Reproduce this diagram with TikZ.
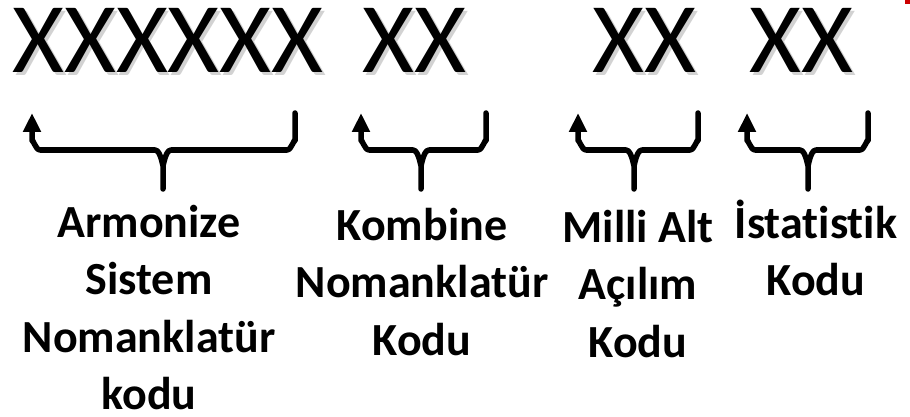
\documentclass[tikz,border=0pt]{standalone}
\usepackage{fontspec}
\setmainfont{Carlito}[Ligatures=NoCommon]
\usetikzlibrary{arrows.meta}

\begin{document}
\begin{tikzpicture}[x=1pt,y=-1pt,
        code/.style={inner sep=0pt,anchor=base west,font=\fontsize{100}{100}\selectfont},
        codeshadow/.style={code,text=black!25,opacity=0.7},
        desc/.style={inner sep=0pt,anchor=north,align=center,font=\bfseries\fontsize{46}{57.5}\selectfont},
        bracepart/.style={line width=5.5pt,line cap=round,line join=round},
        bracetip/.style={bracepart,-{Triangle[length=19pt,width=17pt]}}]
        \useasboundingbox (0,0) rectangle (910,417);
        % Draw code groups
        \foreach \x/\t in {12/XXXXXX, 362/XX, 592/XX, 749/XX}
                \node [codeshadow] at (\x+3,76) {\t};
        \node [code] (hs) at (12,73) {XXXXXX};
        \node [code] (kn) at (362,73) {XX};
        \node [code] (ma) at (592,73) {XX};
        \node [code] (ik) at (749,73) {XX};
        % Draw braces
        \foreach \n/\xl/\xc/\xr in {hs/32/163/295, kn/361/421/486, ma/578/634/698, ik/747/808/868} {
                \coordinate (\n-l) at (\xl,113);
                \coordinate (\n-r) at (\xr,113);
                \coordinate (\n-end) at (\xc,189);
                \draw [bracetip] (\n-end) -- (\xc,164) to[out=-90,in=0] (\xc-8,150)
                        -- (\xl+8,150) to[out=180,in=90] (\xl,141) -- (\n-l);
                \draw [bracepart] (\n-r) -- (\xr,141) to[out=90,in=0] (\xr-8,150)
                        -- (\xc+8,150) to[out=180,in=-90] (\xc,164);
        }
        % Draw labels
        \node [desc] (hsdesc) at (149,197) {\rule{0pt}{40pt}Armonize\\Sistem\\Nomanklatür\\kodu};
        \node [desc] (kndesc) at (422,200) {\rule{0pt}{40pt}Kombine\\Nomanklatür\\Kodu};
        \node [desc] (madesc) at (638,202) {\rule{0pt}{40pt}Milli Alt\\Açılım\\Kodu};
        \node [desc] (ikdesc) at (816,198) {\rule{0pt}{40pt}İstatistik\\Kodu};
        \fill [red!80!black] (905,0) rectangle (910,4);
\end{tikzpicture}
\end{document}
